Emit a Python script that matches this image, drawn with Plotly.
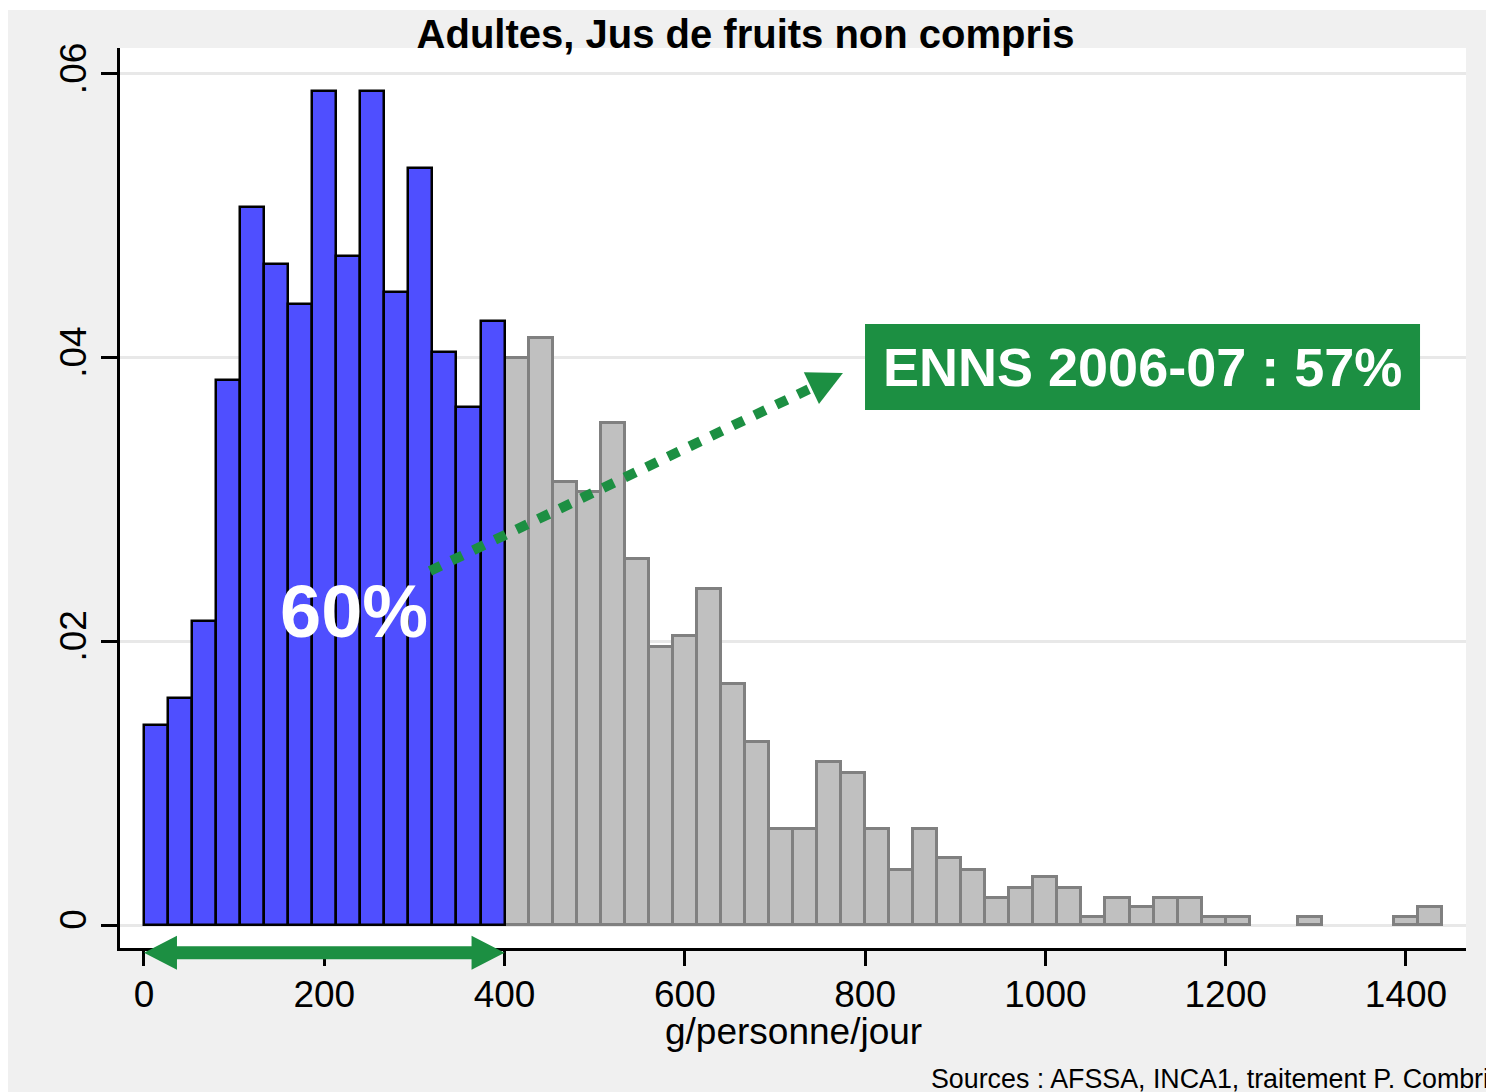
import plotly.graph_objects as go

# Histogram of daily intake, bins of 400/15 g
bin_width = 400 / 15

# density of the 15 bins below 400 g (blue)
under_400 = [0.0141, 0.0160, 0.0214, 0.0384, 0.0506, 0.0466, 0.0438, 0.0588,
             0.0472, 0.0588, 0.0446, 0.0534, 0.0404, 0.0365, 0.0426]

# density of the bins from 400 g upwards (grey), None = empty bin
over_400 = [0.0400, 0.0414, 0.0312, 0.0305, 0.0354, 0.0258, 0.0196, 0.0204,
            0.0237, 0.0170, 0.0129, 0.0068, 0.0068, 0.0115, 0.0107, 0.0068,
            0.0039, 0.0068, 0.0047, 0.0039, 0.0019, 0.0026, 0.0034, 0.0026,
            0.0006, 0.0019, 0.0013, 0.0019, 0.0019, 0.0006, 0.0006, None,
            None, 0.0006, None, None, None, 0.0006, 0.0013]

x_ticks = [0, 200, 400, 600, 800, 1000, 1200, 1400]
y_ticks = [0, 0.02, 0.04, 0.06]
y_labels = ['0', '.02', '.04', '.06']

GREEN = '#1c8f42'
FONT = 'Liberation Sans, Arial, sans-serif'


def path(points):
    """SVG path through a list of (x, y) points"""
    return 'M ' + ' L '.join('{},{}'.format(px, py) for px, py in points) + ' Z'


fig = go.Figure()

# Grey part of the histogram
fig.add_trace(go.Bar(
    x=[bin_width * (len(under_400) + i + 0.5) for i in range(len(over_400))],
    y=over_400,
    width=bin_width,
    marker=dict(color='#c0c0c0', line=dict(color='#808080', width=3)),
    hoverinfo='skip'
))

# Blue part (0-400 g)
fig.add_trace(go.Bar(
    x=[bin_width * (i + 0.5) for i in range(len(under_400))],
    y=under_400,
    width=bin_width,
    marker=dict(color='#4f4fff', line=dict(color='black', width=2.5)),
    hoverinfo='skip'
))

fig.update_layout(
    width=1486,
    height=1092,
    margin={'l': 120, 'r': 20, 't': 48, 'b': 144},
    paper_bgcolor='#f0f0f0',
    plot_bgcolor='white',
    barmode='overlay',
    bargap=0,
    showlegend=False,
    font=dict(family=FONT, color='black'),
    title=dict(
        text='<b>Adultes, Jus de fruits non compris</b>',
        font=dict(size=40, color='black'),
        x=0.5017, xref='container', xanchor='center',
        y=0.9693, yref='container', yanchor='middle'
    )
)

fig.update_xaxes(
    range=[-26.6, 1466.6],
    tickvals=x_ticks,
    showline=True, linecolor='black', linewidth=2.5,
    ticks='outside', ticklen=15, tickwidth=2.5, tickcolor='black',
    tickfont=dict(size=37), ticklabelstandoff=-3,
    showgrid=False, zeroline=False
)

fig.update_yaxes(
    range=[-0.00162, 0.06183],
    tickvals=y_ticks, ticktext=y_labels, tickangle=-90,
    showline=True, linecolor='black', linewidth=2.5,
    ticks='outside', ticklen=16, tickwidth=2.5, tickcolor='black',
    tickfont=dict(size=37),
    showgrid=True, gridcolor='#e8e8e8', gridwidth=3,
    zeroline=True, zerolinecolor='#e8e8e8', zerolinewidth=3
)

# White page border at top and left of the grey frame
fig.add_shape(type='rect', xref='paper', yref='paper', layer='below',
              x0=-0.1, x1=1.1, y0=1 + 38 / 900, y1=1.1,
              fillcolor='white', line=dict(width=0))
fig.add_shape(type='rect', xref='paper', yref='paper', layer='below',
              x0=-0.1, x1=-112 / 1346, y0=-0.2, y1=1.1,
              fillcolor='white', line=dict(width=0))

# Double arrow under the 0-400 range
yc, head_h, shaft_h, head_l = -0.0052, 0.0189, 0.0072, 36.6
fig.add_shape(
    type='path', xref='x', yref='paper', layer='above',
    path=path([(0, yc), (head_l, yc + head_h), (head_l, yc + shaft_h),
               (400 - head_l, yc + shaft_h), (400 - head_l, yc + head_h),
               (400, yc), (400 - head_l, yc - head_h), (400 - head_l, yc - shaft_h),
               (head_l, yc - shaft_h), (head_l, yc - head_h)]),
    fillcolor=GREEN, line=dict(width=0)
)

# Dotted arrow towards the ENNS box
fig.add_shape(
    type='line', x0=317.3, y0=0.02496, x1=740.3, y1=0.03786,
    line=dict(color=GREEN, width=10, dash='12px,12px')
)
fig.add_shape(
    type='path',
    path=path([(775.4, 0.03892), (748.8, 0.03674), (732.0, 0.03897)]),
    fillcolor=GREEN, line=dict(width=0)
)

# ENNS box
fig.add_shape(
    type='rect', x0=799.9, x1=1415.6, y0=0.03631, y1=0.04237,
    fillcolor=GREEN, line=dict(width=0)
)

annotations = [
    dict(x=1108, y=0.03934, text='<b>ENNS 2006-07 : 57%</b>',
         font=dict(size=54, color='white')),
    dict(x=233, y=0.0221, text='<b>60%</b>',
         font=dict(size=74, color='white')),
    dict(x=0.5, y=-0.0933, xref='paper', yref='paper',
         text='g/personne/jour', font=dict(size=37)),
    dict(x=0.601, y=-0.1456, xref='paper', yref='paper', xanchor='left',
         text='Sources : AFSSA, INCA1, traitement P. Combris', font=dict(size=26.8)),
]
for a in annotations:
    fig.add_annotation(showarrow=False, yanchor='middle', **a)

# page margin removed so the figure fills the window exactly
fig.write_html(
    'out.html',
    config={'displayModeBar': False},
    post_script="document.body.style.margin = '0'; document.body.style.overflow = 'hidden';"
)
